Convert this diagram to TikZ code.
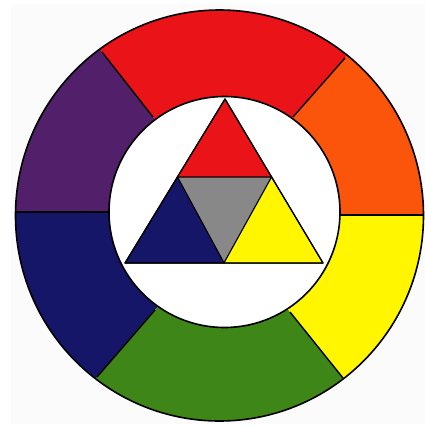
\documentclass[tikz,border=0pt]{standalone}
\definecolor{cwred}{RGB}{234,20,24}
\definecolor{cworange}{RGB}{250,85,10}
\definecolor{cwyellow}{RGB}{255,246,0}
\definecolor{cwgreen}{RGB}{62,134,24}
\definecolor{cwnavy}{RGB}{22,22,104}
\definecolor{cwpurple}{RGB}{82,32,106}
\definecolor{cwgray}{RGB}{136,136,136}
\begin{document}
\begin{tikzpicture}[x=1pt,y=-1pt,
  divider/.style={line width=1.4pt,black},
  ring/.style={line width=1.6pt,black},
  tri/.style={line width=1pt,black,line join=round}]
\useasboundingbox (0,0) rectangle (425,426);
\fill[black!1.5] (11,4) rectangle (425,424);
% dividing line end points: outer (o), inner (i), extended far (f), extended near (n)
\coordinate (o0) at (424,215);  \coordinate (i0) at (339,215);
\coordinate (f0) at (520,215);  \coordinate (n0) at (260,215);
\coordinate (o1) at (345,58);   \coordinate (i1) at (293,117);
\coordinate (f1) at (423,-30.5);\coordinate (n1) at (251.4,164.2);
\coordinate (o2) at (102,52);   \coordinate (i2) at (153,117);
\coordinate (f2) at (25.5,-45.5);\coordinate (n2) at (193.8,169);
\coordinate (o3) at (15,212);   \coordinate (i3) at (109,212);
\coordinate (f3) at (-80,212);  \coordinate (n3) at (190,212);
\coordinate (o4) at (97,377);   \coordinate (i4) at (155,310);
\coordinate (f4) at (10,477.5); \coordinate (n4) at (201.4,256.4);
\coordinate (o5) at (343,378);  \coordinate (i5) at (290,312);
\coordinate (f5) at (422.5,477);\coordinate (n5) at (247.6,259.2);
\coordinate (oc) at (219.5,215.5);
\coordinate (ic) at (224.5,212);
\begin{scope}
  \clip (oc) ellipse [x radius=204, y radius=205.5];
  \fill[cworange] (n0) -- (f0) -- (f1) -- (n1) -- cycle;
  \fill[cwred]    (n1) -- (f1) -- (f2) -- (n2) -- cycle;
  \fill[cwpurple] (n2) -- (f2) -- (f3) -- (n3) -- cycle;
  \fill[cwnavy]   (n3) -- (f3) -- (f4) -- (n4) -- cycle;
  \fill[cwgreen]  (n4) -- (f4) -- (f5) -- (n5) -- cycle;
  \fill[cwyellow] (n5) -- (f5) -- (f0) -- (n0) -- cycle;
\end{scope}
\fill[white] (ic) circle [radius=115.5];
\foreach \k in {0,...,5} { \draw[divider] (i\k) -- (o\k); }
\draw[ring] (oc) ellipse [x radius=204, y radius=205.5];
\draw[ring] (ic) circle [radius=115.5];
% triangle
\coordinate (ta) at (225,99);
\coordinate (tl) at (125,263);
\coordinate (tr) at (323,263);
\coordinate (ml) at (177.4,177);
\coordinate (mr) at (271.6,177);
\coordinate (mb) at (224,263);
\filldraw[tri,fill=cwred]    (ta) -- (ml) -- (mr) -- cycle;
\filldraw[tri,fill=cwgray]   (ml) -- (mr) -- (mb) -- cycle;
\filldraw[tri,fill=cwnavy]   (ml) -- (mb) -- (tl) -- cycle;
\filldraw[tri,fill=cwyellow] (mr) -- (tr) -- (mb) -- cycle;
\draw[tri,line width=1.3pt] (ta) -- (tl) -- (tr) -- cycle;
\end{tikzpicture}
\end{document}
